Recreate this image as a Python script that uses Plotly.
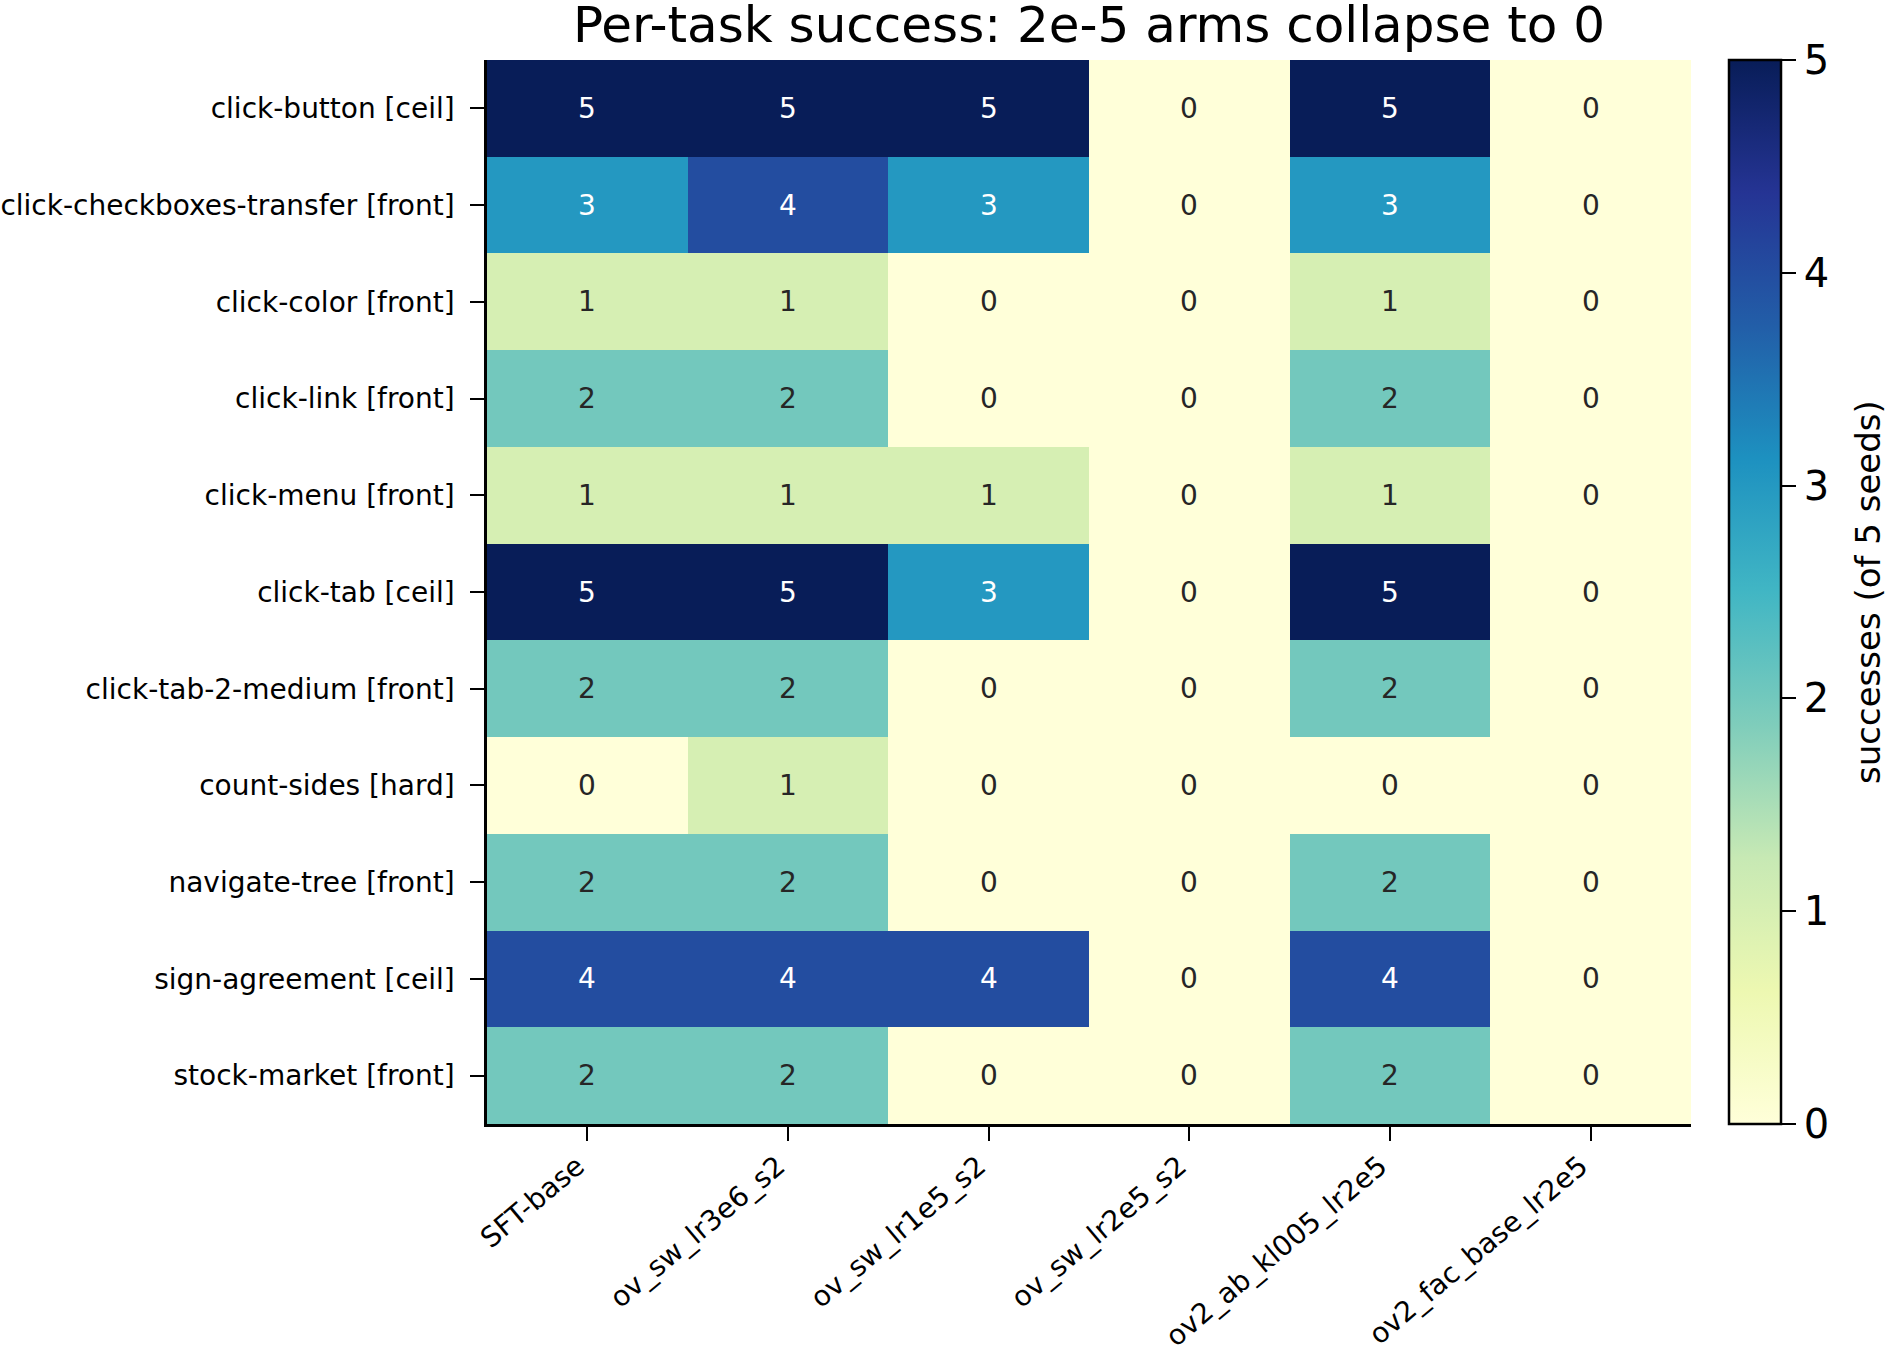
import plotly.graph_objects as go

tasks = [
    "click-button [ceil]",
    "click-checkboxes-transfer [front]",
    "click-color [front]",
    "click-link [front]",
    "click-menu [front]",
    "click-tab [ceil]",
    "click-tab-2-medium [front]",
    "count-sides [hard]",
    "navigate-tree [front]",
    "sign-agreement [ceil]",
    "stock-market [front]",
]
arms = [
    "SFT-base",
    "ov_sw_lr3e6_s2",
    "ov_sw_lr1e5_s2",
    "ov_sw_lr2e5_s2",
    "ov2_ab_kl005_lr2e5",
    "ov2_fac_base_lr2e5",
]
sft_base = [5, 3, 1, 2, 1, 5, 2, 0, 2, 4, 2]
ov_sw_lr3e6_s2 = [5, 4, 1, 2, 1, 5, 2, 1, 2, 4, 2]
ov_sw_lr1e5_s2 = [5, 3, 0, 0, 1, 3, 0, 0, 0, 4, 0]
ov_sw_lr2e5_s2 = [0, 0, 0, 0, 0, 0, 0, 0, 0, 0, 0]
ov2_ab_kl005_lr2e5 = [5, 3, 1, 2, 1, 5, 2, 0, 2, 4, 2]
ov2_fac_base_lr2e5 = [0, 0, 0, 0, 0, 0, 0, 0, 0, 0, 0]
colorbar_ticks = [0, 1, 2, 3, 4, 5]

columns = [sft_base, ov_sw_lr3e6_s2, ov_sw_lr1e5_s2, ov_sw_lr2e5_s2,
           ov2_ab_kl005_lr2e5, ov2_fac_base_lr2e5]
z = [[col[i] for col in columns] for i in range(len(tasks))]

ylgnbu = ['rgb(255,255,217)', 'rgb(237,248,177)', 'rgb(199,233,180)',
          'rgb(127,205,187)', 'rgb(65,182,196)', 'rgb(29,145,192)',
          'rgb(34,94,168)', 'rgb(37,52,148)', 'rgb(8,29,88)']
cscale = [[i / (len(ylgnbu) - 1), c] for i, c in enumerate(ylgnbu)]

FONT = "DejaVu Sans"
W, H = 1885, 1349
L, R, T, B = 487, 1691, 60, 1124

fig = go.Figure()
fig.add_trace(go.Heatmap(
    z=z, x=arms, y=tasks, colorscale=cscale, zmin=0, zmax=5,
    xgap=0, ygap=0, hoverinfo="skip",
    colorbar=dict(
        thickness=52, len=1.0, lenmode="fraction", y=0.5, yanchor="middle",
        x=(1729 - L) / (R - L), xanchor="left", xpad=0, ypad=0,
        outlinewidth=2.5, outlinecolor="black",
        tickvals=colorbar_ticks, ticks="outside", ticklen=14, tickwidth=2,
        tickcolor="black",
        tickprefix='<span style="color:white">.</span>',
        tickfont=dict(family=FONT, size=40, color="black"),
    ),
))

annotations = []
for i, t in enumerate(tasks):
    for j, a in enumerate(arms):
        v = z[i][j]
        annotations.append(dict(
            x=a, y=t, text=str(v), showarrow=False, xref="x", yref="y",
            font=dict(family=FONT, size=28,
                      color="white" if v >= 3 else "#262626"),
        ))

# colorbar label
annotations.append(dict(
    text="successes (of 5 seeds)", textangle=-90, showarrow=False,
    xref="paper", yref="paper", x=(1868 - L) / (R - L), y=0.5,
    xanchor="center", yanchor="middle",
    font=dict(family=FONT, size=34, color="black"),
))

fig.update_layout(
    width=W, height=H,
    margin=dict(l=L, r=W - R, t=T, b=H - B, pad=0, autoexpand=False),
    paper_bgcolor="white", plot_bgcolor="white",
    font=dict(family=FONT, color="black"),
    title=dict(text="Per-task success: 2e-5 arms collapse to 0",
               x=(L + R) / 2 / W, xanchor="center", xref="container",
               y=1 - 24 / H, yanchor="middle", yref="container",
               font=dict(family=FONT, size=50, color="black")),
    annotations=annotations,
    xaxis=dict(
        type="category", showline=True, linecolor="black", linewidth=2.5,
        ticks="outside", ticklen=14, tickwidth=2, tickcolor="black",
        tickangle=-40, tickfont=dict(family=FONT, size=28, color="black"),
        showgrid=False, zeroline=False, mirror=False, automargin=False,
        range=[-0.5, len(arms) - 0.5],
        ticklabelshift=-10, ticklabelstandoff=-2,
    ),
    yaxis=dict(
        type="category", showline=True, linecolor="black", linewidth=2.5,
        ticks="outside", ticklen=14, tickwidth=2, tickcolor="black",
        tickfont=dict(family=FONT, size=28, color="black"),
        showgrid=False, zeroline=False, mirror=False, automargin=False,
        autorange="reversed", ticklabelstandoff=10,
    ),
)

fig.write_html("out.html")
